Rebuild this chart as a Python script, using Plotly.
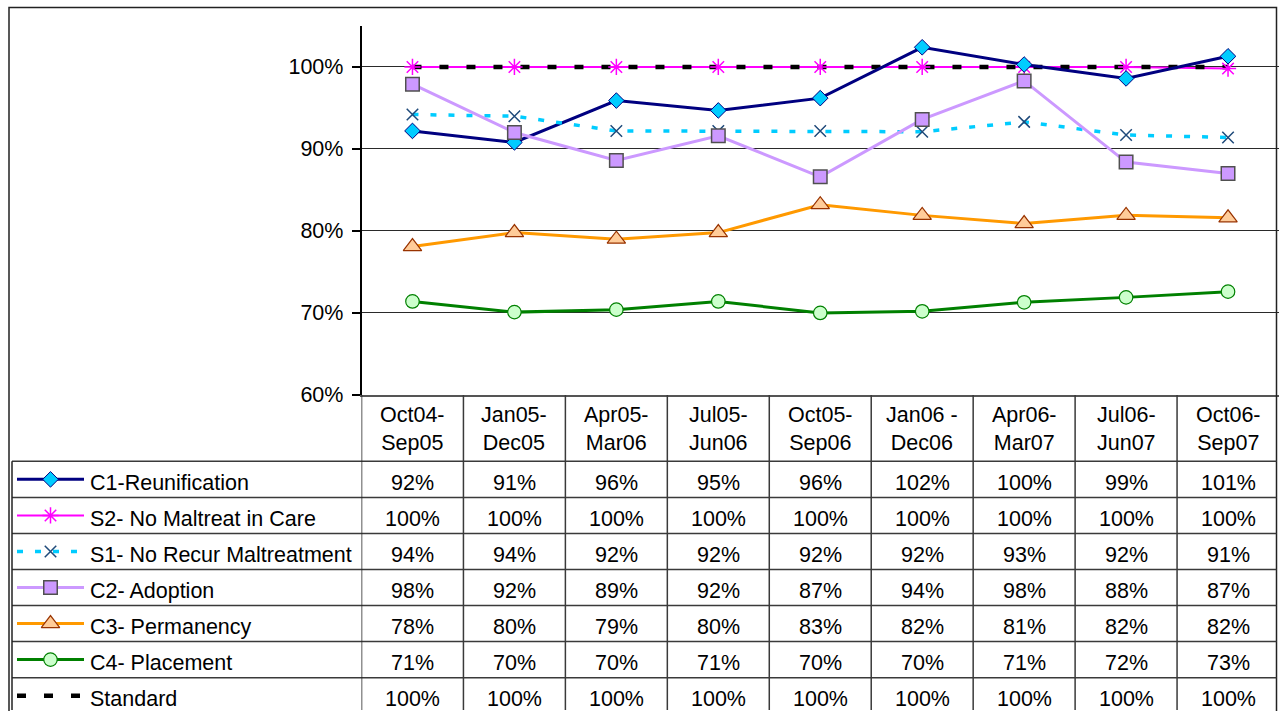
import plotly.graph_objects as go

W = 1279
REF_H = 711          # reference picture height (all pixel positions below use it)
FIG_H = 723          # rendered page height (the photo is rescaled to 711 tall)
FONT = "Liberation Sans, Arial, sans-serif"

categories = ["Oct04-<br>Sep05", "Jan05-<br>Dec05", "Apr05-<br>Mar06", "Jul05-<br>Jun06",
              "Oct05-<br>Sep06", "Jan06 -<br>Dec06", "Apr06-<br>Mar07", "Jul06-<br>Jun07",
              "Oct06-<br>Sep07"]

c1_reunification = [92.2, 90.8, 95.9, 94.7, 96.2, 102.4, 100.3, 98.6, 101.3]
s2_no_maltreat = [100, 100, 100, 100, 100, 100, 100, 100, 99.8]
s1_no_recur = [94.2, 94.0, 92.2, 92.2, 92.2, 92.1, 93.3, 91.7, 91.4]
c2_adoption = [97.9, 92.0, 88.6, 91.6, 86.6, 93.6, 98.3, 88.4, 87.0]
c3_permanency = [78.1, 79.8, 79.0, 79.8, 83.2, 81.9, 80.9, 81.9, 81.6]
c4_placement = [71.4, 70.1, 70.4, 71.4, 70.0, 70.2, 71.3, 71.9, 72.6]
standard = [100, 100, 100, 100, 100, 100, 100, 100, 100]

series_names = ["C1-Reunification", "S2- No Maltreat in Care", "S1- No Recur Maltreatment",
                "C2- Adoption", "C3- Permanency", "C4- Placement", "Standard"]
series_values = [c1_reunification, s2_no_maltreat, s1_no_recur, c2_adoption,
                 c3_permanency, c4_placement, standard]

y_tick_vals = [60, 70, 80, 90, 100]
y_tick_text = ["60%", "70%", "80%", "90%", "100%"]

# styles: (line color, line width, dash, symbol, size, fill, border color, border width)
styles = [
    ("#000080", 3, "solid", "diamond", 12, "#00CCFF", "#000080", 1),
    ("#FF00FF", 2, "solid", "asterisk-open", 13.5, "#FF00FF", "#FF00FF", 1.5),
    ("#00CCFF", 3.5, "6px,12px", "x-thin-open", 11.5, "#1F4A7A", "#1F4A7A", 1.5),
    ("#CC99FF", 3, "solid", "square", 13.5, "#CC99FF", "#505050", 1.5),
    ("#FF9900", 3, "solid", "triangle-up", 16, "#FFCC99", "#993300", 1.2),
    ("#008000", 3, "solid", "circle", 13.5, "#CCFFCC", "#008000", 1.2),
    ("#000000", 4.5, "9px,18px", None, 0, None, None, 0),
]


def py(p):
    """reference pixel y -> paper"""
    return 1 - p / REF_H


def px(p):
    """reference pixel x -> paper"""
    return p / W


X_LEFT = 361.5
PLOT_TOP = 26
PLOT_BOTTOM = 395.5

fig = go.Figure()


def add_series(i, xref="x", yref="y", xs=None, ys=None, lines=True, markers=True):
    lc, lw, dash, sym, ms, fill, bc, bw = styles[i]
    if lines:
        fig.add_trace(go.Scatter(x=xs, y=ys, mode="lines", xaxis=xref, yaxis=yref,
                                 line=dict(color=lc, width=lw, dash=dash),
                                 showlegend=False, hoverinfo="skip"))
    if markers and sym:
        fig.add_trace(go.Scatter(x=xs, y=ys, mode="markers", xaxis=xref, yaxis=yref,
                                 marker=dict(symbol=sym, size=ms, color=fill,
                                             line=dict(color=bc, width=bw)),
                                 showlegend=False, hoverinfo="skip"))


# main chart: S2 line, then standard, then S2 markers, then the rest
add_series(1, xs=categories, ys=s2_no_maltreat, markers=False)
add_series(6, xs=categories, ys=standard)
add_series(1, xs=categories, ys=s2_no_maltreat, lines=False)
for i in [0, 2, 3, 4, 5]:
    add_series(i, xs=categories, ys=series_values[i])

# table geometry (reference pixels)
ROW_TOP = 462
ROW_H = 36.1
n_rows = len(series_names)
row_edges = [ROW_TOP + ROW_H * r for r in range(n_rows)]
row_centers = [ROW_TOP + ROW_H * (r + 0.5) for r in range(n_rows)]

# legend keys in the table (subplot in reference pixel coordinates)
for r in range(n_rows):
    yc = row_centers[r]
    add_series(r, xref="x2", yref="y2", xs=[17, 84], ys=[yc, yc], markers=False)
    add_series(r, xref="x2", yref="y2", xs=[50.5], ys=[yc], lines=False)

shapes = []
line_col = "#3a3a3a"
BOTTOM = 0.0  # paper bottom
# outer chart border
shapes.append(dict(type="rect", xref="paper", yref="paper", x0=px(9), x1=px(1276.5),
                   y0=py(7.5), y1=-0.01, line=dict(color="#222222", width=1.5)))
# table horizontal lines
for e in row_edges:
    shapes.append(dict(type="line", xref="paper", yref="paper", x0=px(12), x1=px(1276.5),
                       y0=py(e), y1=py(e), line=dict(color=line_col, width=1.5)))
# table left border
shapes.append(dict(type="line", xref="paper", yref="paper", x0=px(12), x1=px(12),
                   y0=py(ROW_TOP), y1=BOTTOM, line=dict(color="#222222", width=1.5)))
# vertical column lines
for k in range(len(categories)):
    shapes.append(dict(type="line", xref="x", yref="paper", x0=k - 0.5, x1=k - 0.5,
                       y0=py(PLOT_BOTTOM), y1=BOTTOM,
                       line=dict(color="#222222" if k == 0 else line_col, width=1.5)))

annotations = []
# header labels
for k, c in enumerate(categories):
    annotations.append(dict(xref="x", yref="paper", x=k, y=py(430), text=c,
                            showarrow=False, xanchor="center", yanchor="middle",
                            font=dict(family=FONT, size=21.5, color="#000000")))
# values and legend text
for r, (name, vals) in enumerate(zip(series_names, series_values)):
    yc = row_centers[r] + 3.5
    annotations.append(dict(xref="paper", yref="paper", x=px(88), y=py(yc), text=name,
                            showarrow=False, xanchor="left", yanchor="middle",
                            font=dict(family=FONT, size=21.5, color="#000000")))
    for k, v in enumerate(vals):
        annotations.append(dict(xref="x", yref="paper", x=k, y=py(yc),
                                text=f"{int(v + 0.5)}%", showarrow=False,
                                xanchor="center", yanchor="middle",
                                font=dict(family=FONT, size=21.5, color="#000000")))

fig.update_layout(
    width=W, height=FIG_H, autosize=False,
    margin=dict(l=0, r=0, t=0, b=0),
    paper_bgcolor="white", plot_bgcolor="rgba(0,0,0,0)",
    showlegend=False,
    xaxis=dict(domain=[px(X_LEFT), 1], type="category", range=[-0.5, 8.5],
               showticklabels=False, ticks="", showgrid=False, zeroline=False,
               showline=True, linecolor="#555555", linewidth=2, fixedrange=True),
    yaxis=dict(domain=[py(PLOT_BOTTOM), py(PLOT_TOP)], range=[60, 105],
               tickvals=y_tick_vals, ticktext=y_tick_text, ticks="outside", ticklen=8,
               tickcolor="#000000", tickwidth=1.5, ticklabelstandoff=4,
               tickfont=dict(family=FONT, size=21.5, color="#000000"),
               showgrid=True, gridcolor="#2a2a2a", gridwidth=1, zeroline=False,
               showline=True, linecolor="#000000", linewidth=1.5, fixedrange=True),
    xaxis2=dict(domain=[0, 1], range=[0, W], visible=False, anchor="y2", fixedrange=True),
    yaxis2=dict(domain=[0, 1], range=[REF_H, 0], visible=False, anchor="x2",
                fixedrange=True),
    shapes=shapes,
    annotations=annotations,
)

fig.write_html(
    "out.html",
    config={"displayModeBar": False},
    post_script=("document.body.style.margin='0';"
                 "document.body.style.overflow='hidden';"
                 "document.documentElement.style.overflow='hidden';"),
)
